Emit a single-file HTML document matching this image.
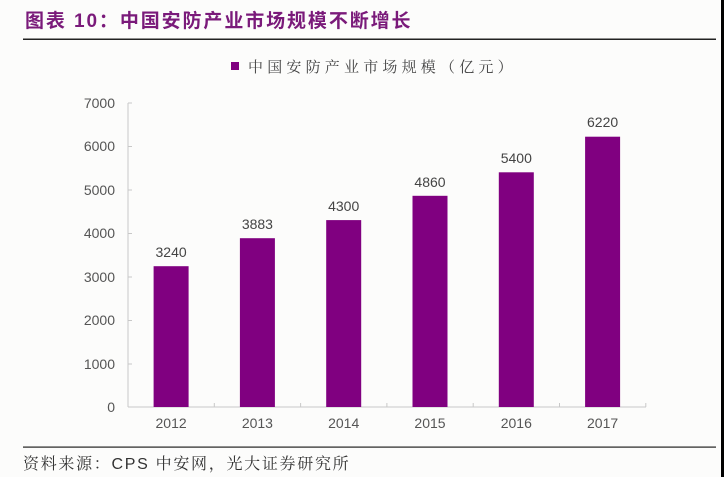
<!DOCTYPE html>
<html><head><meta charset="utf-8"><style>
html,body{margin:0;padding:0;background:#fdfdfc;}
svg{display:block;}
</style></head><body>
<svg width="724" height="477" viewBox="0 0 724 477" xmlns="http://www.w3.org/2000/svg">
<rect x="0" y="0" width="724" height="477" fill="#fcfcfb"/>
<rect x="721" y="0" width="3" height="477" fill="#000"/>
<text x="25" y="27" font-family="'Liberation Sans','Noto Sans CJK SC',sans-serif" font-size="19" font-weight="bold" fill="#7a1a7a" letter-spacing="1.9">图表 10：中国安防产业市场规模不断增长</text>
<rect x="23" y="38.5" width="693" height="1.5" fill="#222"/>
<rect x="231" y="62" width="8" height="8" fill="#800080"/>
<text x="248" y="72" font-family="'Liberation Serif','Noto Serif CJK SC',serif" font-size="15" fill="#444" letter-spacing="4.2">中国安防产业市场规模（亿元）</text>
<g font-family="'Liberation Sans',sans-serif" font-size="14" fill="#555" text-anchor="end">
<text x="115" y="108">7000</text>
<text x="115" y="151">6000</text>
<text x="115" y="195">5000</text>
<text x="115" y="238">4000</text>
<text x="115" y="282">3000</text>
<text x="115" y="325">2000</text>
<text x="115" y="369">1000</text>
<text x="115" y="412">0</text>
</g>
<g stroke="#c8c8c8" stroke-width="1">
<line x1="128" y1="103" x2="128" y2="407"/>
<line x1="128" y1="103" x2="132" y2="103"/>
<line x1="128" y1="146.5" x2="132" y2="146.5"/>
<line x1="128" y1="190" x2="132" y2="190"/>
<line x1="128" y1="233.5" x2="132" y2="233.5"/>
<line x1="128" y1="277" x2="132" y2="277"/>
<line x1="128" y1="320.5" x2="132" y2="320.5"/>
<line x1="128" y1="364" x2="132" y2="364"/>
<line x1="128" y1="407" x2="646" y2="407"/>
<line x1="214.3" y1="403" x2="214.3" y2="407"/>
<line x1="300.6" y1="403" x2="300.6" y2="407"/>
<line x1="386.9" y1="403" x2="386.9" y2="407"/>
<line x1="473.2" y1="403" x2="473.2" y2="407"/>
<line x1="559.5" y1="403" x2="559.5" y2="407"/>
<line x1="645.8" y1="403" x2="645.8" y2="407"/>
</g>
<g fill="#800080">
<rect x="153.6" y="266.2" width="35" height="140.8"/>
<rect x="239.9" y="238.2" width="35" height="168.8"/>
<rect x="326.2" y="220.1" width="35" height="186.9"/>
<rect x="412.5" y="195.8" width="35" height="211.2"/>
<rect x="498.8" y="172.3" width="35" height="234.7"/>
<rect x="585.1" y="136.7" width="35" height="270.3"/>
</g>
<g font-family="'Liberation Sans',sans-serif" font-size="14" fill="#444" text-anchor="middle">
<text x="171.1" y="257">3240</text>
<text x="257.4" y="229">3883</text>
<text x="343.7" y="211">4300</text>
<text x="430" y="187">4860</text>
<text x="516.3" y="163">5400</text>
<text x="602.6" y="127">6220</text>
</g>
<g font-family="'Liberation Sans',sans-serif" font-size="14" fill="#555" text-anchor="middle">
<text x="171.1" y="428">2012</text>
<text x="257.4" y="428">2013</text>
<text x="343.7" y="428">2014</text>
<text x="430" y="428">2015</text>
<text x="516.3" y="428">2016</text>
<text x="602.6" y="428">2017</text>
</g>
<rect x="23" y="446.5" width="693" height="1.2" fill="#222"/>
<text x="23" y="469" font-family="'Liberation Sans','Noto Serif CJK SC',serif" font-size="16" fill="#333" letter-spacing="1.7">资料来源：CPS 中安网，光大证券研究所</text>
</svg>
</body></html>
